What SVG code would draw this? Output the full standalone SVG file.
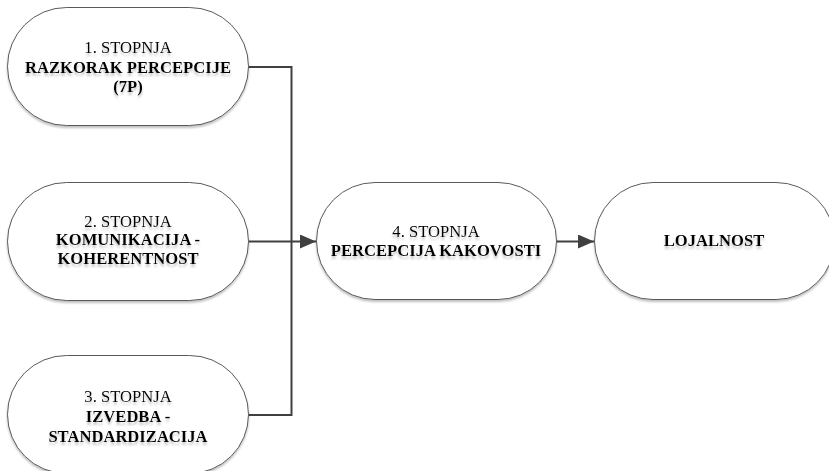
<svg xmlns="http://www.w3.org/2000/svg" width="829" height="471" viewBox="0 0 829 471">
<defs>
<filter id="sh" x="-10%" y="-10%" width="120%" height="130%">
<feDropShadow dx="0" dy="2" stdDeviation="1" flood-color="#000" flood-opacity="0.25"/>
</filter>
<filter id="tsh" x="-5%" y="-20%" width="110%" height="160%">
<feDropShadow dx="0" dy="3" stdDeviation="1" flood-color="#888" flood-opacity="0.45"/>
</filter>
<marker id="arrow" viewBox="0 0 16 14" refX="16" refY="7" markerWidth="16" markerHeight="14" markerUnits="userSpaceOnUse" orient="auto">
<path d="M0,0 L16,7 L0,14 z" fill="#404040"/>
</marker>
</defs>
<style>
.pill{fill:#fff;stroke:#5a5a5a;stroke-width:1;filter:url(#sh)}
text{font-family:"Liberation Serif","Times New Roman",serif;font-size:16.6px;fill:#000;text-anchor:middle;filter:url(#tsh)}
.b{font-weight:bold}
.c{fill:none;stroke:#404040;stroke-width:2}
</style>
<rect width="829" height="471" fill="#fff"/>
<g id="connectors">
<polyline class="c" points="248,67 291.5,67 291.5,415 248,415"/>
<line class="c" x1="248" y1="241.5" x2="316" y2="241.5" marker-end="url(#arrow)"/>
<line class="c" x1="556" y1="241.5" x2="594" y2="241.5" marker-end="url(#arrow)"/>
</g>
<g id="node1">
<rect class="pill" x="7.5" y="7.5" width="241" height="118" rx="59" ry="59"/>
<text x="128" y="53">1. STOPNJA</text>
<text class="b" x="128" y="73">RAZKORAK PERCEPCIJE</text>
<text class="b" x="128" y="92">(7P)</text>
</g>
<g id="node2">
<rect class="pill" x="7.5" y="182.5" width="241" height="118" rx="59" ry="59"/>
<text x="128" y="227">2. STOPNJA</text>
<text class="b" x="128" y="245">KOMUNIKACIJA -</text>
<text class="b" x="128" y="264">KOHERENTNOST</text>
</g>
<g id="node3">
<rect class="pill" x="7.5" y="355.5" width="241" height="118" rx="59" ry="59"/>
<text x="128" y="402">3. STOPNJA</text>
<text class="b" x="128" y="422">IZVEDBA -</text>
<text class="b" x="128" y="442">STANDARDIZACIJA</text>
</g>
<g id="node4">
<rect class="pill" x="316.5" y="182.5" width="240" height="117" rx="58.5" ry="58.5"/>
<text x="436" y="237">4. STOPNJA</text>
<text class="b" x="436" y="256">PERCEPCIJA KAKOVOSTI</text>
</g>
<g id="node5">
<rect class="pill" x="594.5" y="182.5" width="240" height="117" rx="58.5" ry="58.5"/>
<text class="b" x="714" y="246">LOJALNOST</text>
</g>
</svg>
